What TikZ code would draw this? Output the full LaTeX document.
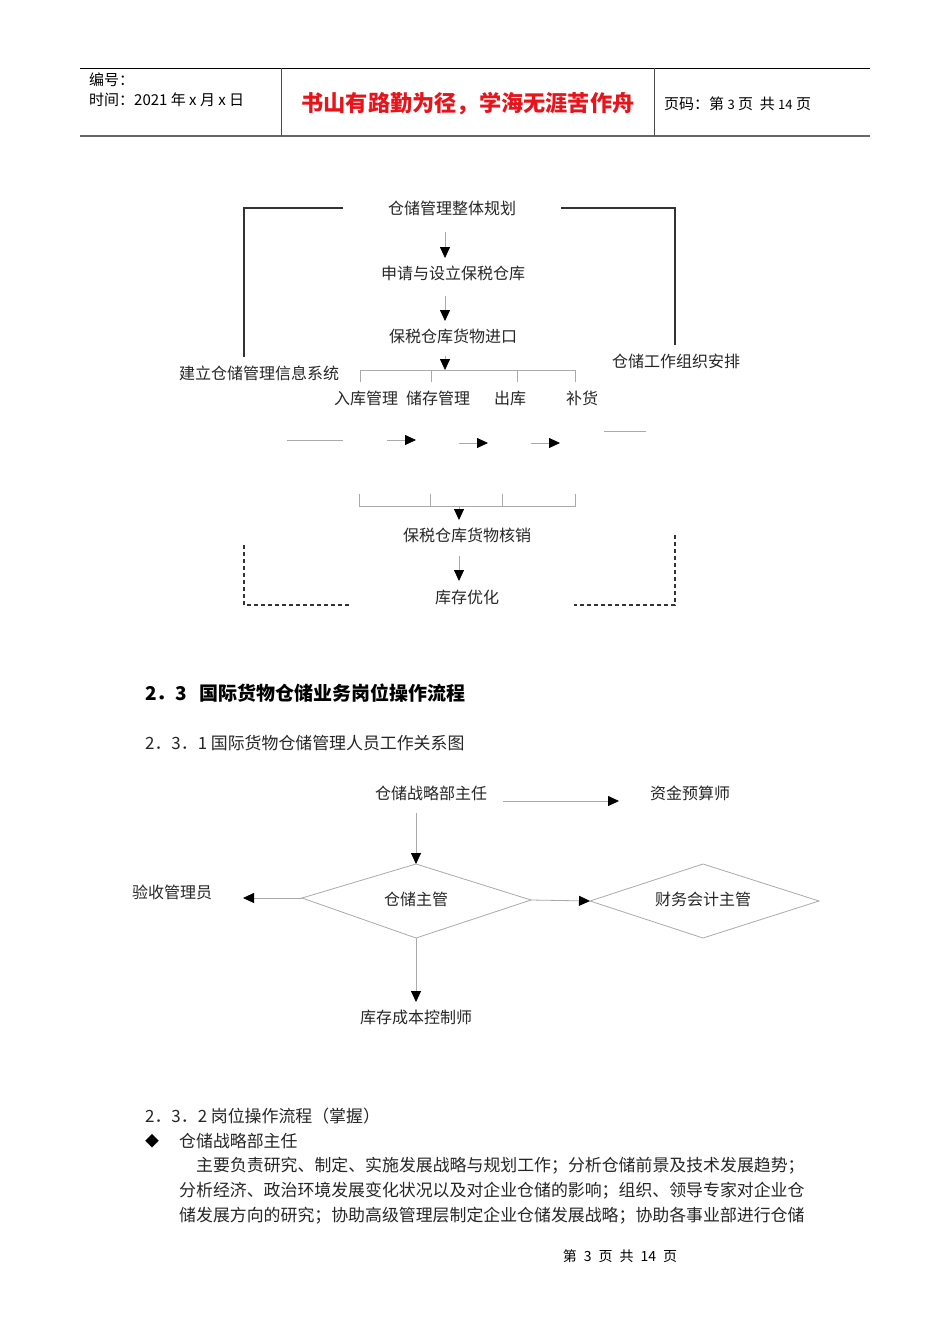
\documentclass[tikz,border=0pt]{standalone}
\usepackage{fontspec}
\setmainfont{Noto Sans CJK SC}
\usetikzlibrary{arrows.meta}
\definecolor{lg}{HTML}{AAAAAA}
\definecolor{dg}{HTML}{333333}
\definecolor{rd}{HTML}{E8141B}
\tikzset{
  lbl/.style={font=\fontsize{16}{16}\selectfont, inner sep=0pt, text=black!85},
  hdr/.style={font=\fontsize{15}{15}\selectfont, inner sep=0pt, anchor=west},
  para/.style={font=\fontsize{16.9}{16.9}\selectfont, inner sep=0pt, anchor=west, text=black!85},
  gl/.style={draw=lg, line width=0.8pt},
  frm/.style={draw=dg, line width=1.3pt},
  dsh/.style={draw=dg, line width=1.2pt, dash pattern=on 4pt off 3pt},
  arr/.style={-{Triangle[length=11pt,width=10pt,color=black]}},
  dia/.style={draw=lg, line width=0.8pt},
}
\begin{document}
\begin{tikzpicture}[x=1pt,y=-1pt]
\useasboundingbox[fill=white] (0,0) rectangle (950,1344);
% ---------- header ----------
\draw[black, line width=0.8pt] (80,68) -- (870,68);
\draw[black!60, line width=1.6pt] (80,136) -- (870,136);
\draw[black!70, line width=0.9pt] (281,68) -- (281,136);
\draw[black!70, line width=0.9pt] (654,68) -- (654,136);
\node[hdr] (hno) at (89,80) {编号：};
\node[hdr] (htime) at (89,100) {时间：2021 年 x 月 x 日};
\node[font=\fontsize{22.2}{22.2}\selectfont\bfseries, text=rd, inner sep=0pt] (hmotto) at (468,104) {书山有路勤为径，学海无涯苦作舟};
\node[hdr] (hpage) at (664,104) {页码：第 {\fontsize{13}{13}\selectfont 3} 页\ \ 共 {\fontsize{13}{13}\selectfont 14} 页};
% ---------- diagram 1 ----------
\node[lbl] (plan) at (452,208) {仓储管理整体规划};
\node[lbl] (apply) at (453,273) {申请与设立保税仓库};
\node[lbl] (import) at (453,336) {保税仓库货物进口};
\node[lbl] (info) at (259,373) {建立仓储管理信息系统};
\node[lbl] (org) at (676,361) {仓储工作组织安排};
\node[lbl] (in) at (366,398) {入库管理};
\node[lbl] (store) at (438,398) {储存管理};
\node[lbl] (out) at (510,398) {出库};
\node[lbl] (refill) at (582,398) {补货};
\node[lbl] (verify) at (467,535) {保税仓库货物核销};
\node[lbl] (opt) at (467,597) {库存优化};
% frame lines
\coordinate (fl1) at (343,208); \coordinate (fl2) at (244,357);
\coordinate (fr1) at (561,208); \coordinate (fr2) at (675,345);
\draw[frm] (fl1) -| (fl2);
\draw[frm] (fr1) -| (fr2);
% vertical arrows
\coordinate (a1s) at (445,232); \coordinate (a1e) at (445,258);
\coordinate (a2s) at (445,296); \coordinate (a2e) at (445,321);
\coordinate (a3s) at (445,356); \coordinate (a3e) at (445,370);
\draw[gl,arr] (a1s) -- (a1e);
\draw[gl,arr] (a2s) -- (a2e);
\draw[gl,arr] (a3s) -- (a3e);
% top bracket
\coordinate (tb1) at (360,370); \coordinate (tb2) at (575,370);
\draw[gl] (360,382) -- (tb1) -- (tb2) -- (575,382);
\draw[gl] (431,370) -- (431,382);
\draw[gl] (517,370) -- (517,382);
% horizontal row
\coordinate (h0s) at (287,440); \coordinate (h0e) at (343,440);
\coordinate (h1s) at (387,440); \coordinate (h1e) at (416,440);
\coordinate (h2s) at (459,443); \coordinate (h2e) at (488,443);
\coordinate (h3s) at (531,443); \coordinate (h3e) at (560,443);
\coordinate (h4s) at (604,431); \coordinate (h4e) at (646,431);
\draw[gl] (h0s) -- (h0e);
\draw[gl,arr] (h1s) -- (h1e);
\draw[gl,arr] (h2s) -- (h2e);
\draw[gl,arr] (h3s) -- (h3e);
\draw[gl] (h4s) -- (h4e);
% bottom bracket
\coordinate (bb1) at (359,506); \coordinate (bb2) at (575,506);
\draw[gl] (359,494) -- (bb1) -- (bb2) -- (575,494);
\draw[gl] (430,494) -- (430,506);
\draw[gl] (502,494) -- (502,506);
\coordinate (a4s) at (459,506); \coordinate (a4e) at (459,520);
\draw[gl,arr] (a4s) -- (a4e);
\coordinate (a5s) at (459,556); \coordinate (a5e) at (459,581);
\draw[gl,arr] (a5s) -- (a5e);
% dashed returns
\coordinate (dl1) at (244,545); \coordinate (dl2) at (350,605);
\coordinate (dr1) at (675,535); \coordinate (dr2) at (574,605);
\draw[dsh] (dl1) |- (dl2);
\draw[dsh] (dr1) |- (dr2);
% ---------- section text ----------
\node[font=\fontsize{19}{19}\selectfont\bfseries, inner sep=0pt, anchor=west] (sec) at (145,693) {2．3\hspace{12pt}国际货物仓储业务岗位操作流程};
\node[para] (sub1) at (145,743) {2．3．1 国际货物仓储管理人员工作关系图};
% ---------- diagram 2 ----------
\node[lbl] (dir) at (431,793) {仓储战略部主任};
\node[lbl] (budget) at (690,793) {资金预算师};
\node[lbl] (recv) at (172,892) {验收管理员};
\node[lbl] (cost) at (416,1017) {库存成本控制师};
\draw[dia] (302,898) coordinate (d1w) -- (416,864) coordinate (d1n) -- (531,900) coordinate (d1e) -- (416,938) coordinate (d1s) -- cycle;
\node[lbl] (mgr) at (416,899) {仓储主管};
\draw[dia] (590,901) coordinate (d2w) -- (703,864) coordinate (d2n) -- (819,901) coordinate (d2e) -- (703,938) coordinate (d2s) -- cycle;
\node[lbl] (fin) at (703,899) {财务会计主管};
\coordinate (b1s) at (503,801); \coordinate (b1e) at (619,801);
\draw[gl,arr] (b1s) -- (b1e);
\coordinate (b2s) at (416,813);
\draw[gl,arr] (b2s) -- (d1n);
\coordinate (b3e) at (243,898);
\draw[gl,arr] (d1w) -- (b3e);
\draw[gl,arr] (d1e) -- (d2w);
\coordinate (b4e) at (416,1002);
\draw[gl,arr] (d1s) -- (b4e);
% ---------- bottom text ----------
\node[para] (sub2) at (145,1116) {2．3．2 岗位操作流程（掌握）};
\node[font=\fontsize{14}{14}\selectfont, inner sep=0pt] (bul) at (152,1141) {◆};
\node[para] (role) at (179,1141) {仓储战略部主任};
\node[para] (p1) at (196,1166) {主要负责研究、制定、实施发展战略与规划工作；分析仓储前景及技术发展趋势；};
\node[para] (p2) at (179,1191) {分析经济、政治环境发展变化状况以及对企业仓储的影响；组织、领导专家对企业仓};
\node[para] (p3) at (179,1216) {储发展方向的研究；协助高级管理层制定企业仓储发展战略；协助各事业部进行仓储};
\node[font=\fontsize{14}{14}\selectfont, inner sep=0pt] (foot) at (620,1256) {第\hspace{7pt}3\hspace{7pt}页\hspace{7pt}共\hspace{7pt}14\hspace{7pt}页};
\end{tikzpicture}
\end{document}
